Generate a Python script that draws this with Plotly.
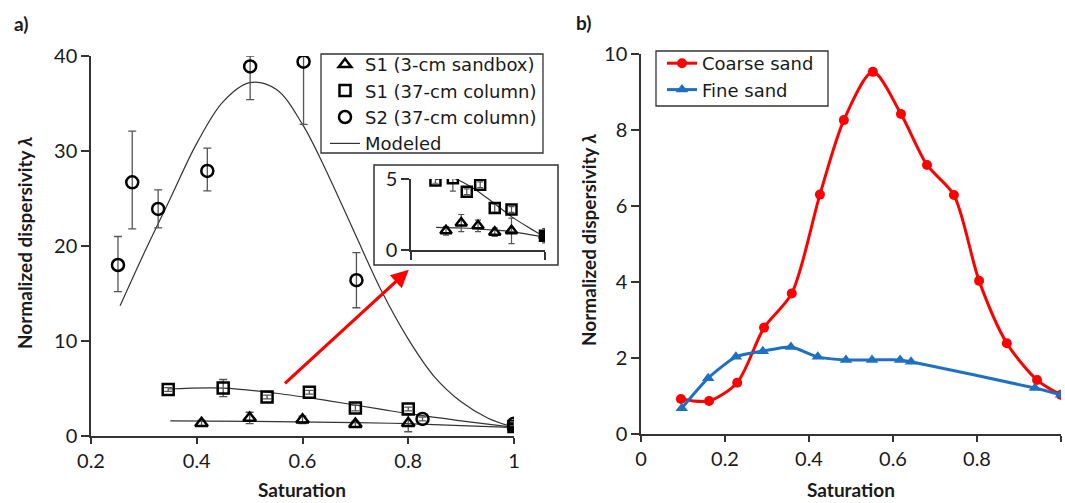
import plotly.graph_objects as go

# ---------------- Panel a) data ----------------
s1_box_x = [0.409, 0.50, 0.60, 0.70, 0.80, 1.0]
s1_box_y = [1.35, 1.9, 1.7, 1.25, 1.35, 1.0]
s1_box_err = [0.3, 0.6, 0.4, 0.3, 0.9, 0.3]

s1_col_x = [0.346, 0.45, 0.533, 0.613, 0.70, 0.80, 1.0]
s1_col_y = [4.9, 5.05, 4.1, 4.6, 2.95, 2.85, 1.0]
s1_col_err = [0.2, 0.9, 0.2, 0.2, 0.3, 0.2, 0.5]

s2_col_x = [0.251, 0.278, 0.327, 0.42, 0.501, 0.602, 0.702, 0.827, 1.0]
s2_col_y = [18.0, 26.7, 23.9, 27.9, 38.9, 39.4, 16.4, 1.8, 1.3]
s2_err_plus = [3.0, 5.4, 2.0, 2.4, 1.1, 0.6, 2.9, 0.2, 0.2]
s2_err_minus = [2.8, 4.9, 2.0, 2.1, 3.5, 6.6, 2.9, 0.2, 0.2]

mod_s2_x = [0.255, 0.30, 0.35, 0.40, 0.45, 0.50, 0.55, 0.60, 0.65, 0.70, 0.75, 0.80, 0.85, 0.90, 0.95, 1.0]
mod_s2_y = [13.7, 19.2, 25.0, 30.8, 35.2, 37.2, 36.5, 32.8, 27.3, 21.2, 15.2, 10.2, 6.2, 3.6, 1.9, 0.9]

mod_s1c_x = [0.346, 0.45, 0.55, 0.65, 0.75, 0.80, 0.90, 1.0]
mod_s1c_y = [4.95, 5.05, 4.5, 3.7, 2.8, 2.35, 1.6, 0.9]

mod_s1b_x = [0.35, 0.50, 0.70, 0.80, 0.90, 1.0]
mod_s1b_y = [1.6, 1.55, 1.4, 1.3, 1.1, 0.9]

# ---------------- Panel b) data ----------------
coarse_x = [0.095, 0.162, 0.229, 0.293, 0.359, 0.426, 0.483, 0.552, 0.619, 0.681, 0.745, 0.805, 0.871, 0.943, 1.0]
coarse_y = [0.92, 0.87, 1.35, 2.8, 3.7, 6.3, 8.26, 9.53, 8.42, 7.08, 6.29, 4.03, 2.39, 1.42, 1.03]

fine_x = [0.097, 0.16, 0.226, 0.29, 0.357, 0.421, 0.488, 0.55, 0.617, 0.643, 0.938, 1.0]
fine_y = [0.68, 1.47, 2.03, 2.18, 2.29, 2.03, 1.95, 1.95, 1.95, 1.9, 1.21, 1.03]

FONT = "Lato"
LFONT = "DejaVu Sans"
TXT = "#1a1a1a"
AX = "#333333"
W, H = 1065, 503

def px(xp):
    return xp / W

def py(yp):
    return 1 - yp / H

fig = go.Figure()

eb = dict(color="#555555", thickness=1.3, width=4)

# modeled lines (main)
for mx, my in [(mod_s2_x, mod_s2_y), (mod_s1c_x, mod_s1c_y), (mod_s1b_x, mod_s1b_y)]:
    fig.add_trace(go.Scatter(x=mx, y=my, mode="lines", line=dict(color=AX, width=1.2, shape="spline"),
                             name="Modeled", showlegend=False, xaxis="x", yaxis="y"))

sym_col = ["square-open"] * (len(s1_col_x) - 1) + ["square"]

fig.add_trace(go.Scatter(x=s1_box_x, y=s1_box_y, mode="markers", name="S1 (3-cm sandbox)",
                         marker=dict(symbol="triangle-up-open", size=11, color="black", line=dict(width=2.5)),
                         error_y=dict(type="data", array=s1_box_err, **eb), legendrank=1))
fig.add_trace(go.Scatter(x=s1_col_x, y=s1_col_y, mode="markers", name="S1 (37-cm column)",
                         marker=dict(symbol=sym_col, size=11, color="black", line=dict(width=2.5, color="black")),
                         error_y=dict(type="data", array=s1_col_err, **eb), legendrank=2))
fig.add_trace(go.Scatter(x=s2_col_x, y=s2_col_y, mode="markers", name="S2 (37-cm column)",
                         marker=dict(symbol="circle-open", size=12, color="black", line=dict(width=2.5)),
                         error_y=dict(type="data", symmetric=False, array=s2_err_plus, arrayminus=s2_err_minus, **eb),
                         legendrank=3))
# legend entry for modeled
fig.add_trace(go.Scatter(x=[None], y=[None], mode="lines", line=dict(color=AX, width=1.2), name="Modeled",
                         legendrank=4))

# inset traces
for mx, my in [(mod_s1c_x, mod_s1c_y), (mod_s1b_x, mod_s1b_y)]:
    fig.add_trace(go.Scatter(x=mx, y=my, mode="lines", line=dict(color=AX, width=1.2, shape="spline"),
                             showlegend=False, xaxis="x3", yaxis="y3"))
ebi = dict(color="#555555", thickness=1.2, width=3)
fig.add_trace(go.Scatter(x=s1_box_x, y=s1_box_y, mode="markers", showlegend=False, xaxis="x3", yaxis="y3",
                         marker=dict(symbol="triangle-up-open", size=10, color="black", line=dict(width=2.5)),
                         error_y=dict(type="data", array=s1_box_err, **ebi)))
fig.add_trace(go.Scatter(x=s1_col_x, y=s1_col_y, mode="markers", showlegend=False, xaxis="x3", yaxis="y3",
                         marker=dict(symbol=sym_col, size=10, color="black", line=dict(width=2.5, color="black")),
                         error_y=dict(type="data", array=s1_col_err, **ebi)))

# panel b traces
fig.add_trace(go.Scatter(x=coarse_x, y=coarse_y, mode="lines+markers", name="Coarse sand",
                         line=dict(color="#FF0000", width=3, shape="spline", smoothing=0.8),
                         marker=dict(symbol="circle", size=10, color="#FF0000"),
                         xaxis="x2", yaxis="y2", legend="legend2"))
fig.add_trace(go.Scatter(x=fine_x, y=fine_y, mode="lines+markers", name="Fine sand",
                         line=dict(color="#1F70C1", width=3, shape="spline", smoothing=0.6),
                         marker=dict(symbol="triangle-up", size=11, color="#1F70C1"),
                         xaxis="x2", yaxis="y2", legend="legend2"))

axis_common = dict(showgrid=False, zeroline=False, showline=True, linecolor=AX, linewidth=1.5,
                   ticks="outside", tickcolor=AX, tickwidth=1.5, automargin=False,
                   tickfont=dict(family=FONT, size=20, color=TXT))

fig.update_layout(
    width=W, height=H,
    margin=dict(l=0, r=0, t=0, b=0, pad=0, autoexpand=False),
    paper_bgcolor="white", plot_bgcolor="white",
    font=dict(family=FONT, color=TXT),
    xaxis=dict(domain=[px(91), px(514)], range=[0.2, 1.0], tickvals=[0.2, 0.4, 0.6, 0.8, 1.0],
               ticktext=["0.2", "0.4", "0.6", "0.8", "1"], ticklen=6, anchor="y", **axis_common),
    yaxis=dict(domain=[py(436), py(56)], range=[0, 40], tickvals=[0, 10, 20, 30, 40], ticklen=8,
               anchor="x", **axis_common),
    xaxis2=dict(domain=[px(641), px(1061)], range=[0, 1.0], tickvals=[0, 0.2, 0.4, 0.6, 0.8, 1.0],
                ticktext=["0", "0.2", "0.4", "0.6", "0.8", "1"], ticklen=6, anchor="y2", **axis_common),
    yaxis2=dict(domain=[py(434), py(54)], range=[0, 10], tickvals=[0, 2, 4, 6, 8, 10], ticklen=8,
                anchor="x2", **axis_common),
    xaxis3=dict(domain=[px(411), px(545)], range=[0.2, 1.0], tickvals=[0.2, 1.0], ticktext=["", ""],
                ticklen=8, anchor="y3", showgrid=False, zeroline=False, showline=True, linecolor=AX,
                linewidth=1.5, ticks="outside", tickcolor=AX, tickwidth=1.5, automargin=False),
    yaxis3=dict(domain=[py(250), py(179)], range=[0, 5], tickvals=[0, 5], ticklen=8, anchor="x3",
                showgrid=False, zeroline=False, showline=True, linecolor=AX, linewidth=1.5,
                ticks="outside", tickcolor=AX, tickwidth=1.5, automargin=False,
                tickfont=dict(family=FONT, size=20, color=TXT)),
    legend=dict(x=px(325), y=py(46), xanchor="left", yanchor="top", bgcolor="rgba(0,0,0,0)",
                borderwidth=0, font=dict(family=LFONT, size=18, color=TXT),
                tracegroupgap=0, itemwidth=30),
    legend2=dict(x=px(662), y=py(45), xanchor="left", yanchor="top", bgcolor="rgba(0,0,0,0)",
                 borderwidth=0, font=dict(family=LFONT, size=18, color=TXT),
                 itemwidth=30),
    showlegend=True,
)

# legend frames
fig.add_shape(type="rect", xref="paper", yref="paper", x0=px(321), x1=px(543), y0=py(153), y1=py(54),
              line=dict(color=AX, width=1.3), fillcolor="white", layer="above")
fig.add_shape(type="rect", xref="paper", yref="paper", x0=px(656), x1=px(828), y0=py(106), y1=py(51),
              line=dict(color=AX, width=1.3), fillcolor="white", layer="above")
# inset frame
fig.add_shape(type="rect", xref="paper", yref="paper", x0=px(374), x1=px(558), y0=py(265), y1=py(165),
              line=dict(color=AX, width=1.5), fillcolor="rgba(0,0,0,0)", layer="above")

# red arrow
fig.add_annotation(x=0.801, y=17.5, ax=0.564, ay=5.4, xref="x", yref="y", axref="x", ayref="y",
                   showarrow=True, arrowhead=2, arrowsize=1.1, arrowwidth=3.2, arrowcolor="#FF0000", text="")

# titles and panel labels
def label(xp, yp, text, size=19, angle=0):
    fig.add_annotation(x=px(xp), y=py(yp), xref="paper", yref="paper", text=text, showarrow=False,
                       xanchor="center", yanchor="middle", textangle=angle,
                       font=dict(family=FONT, size=size, color=TXT))

label(302, 489, "<b>Saturation</b>")
label(851, 489, "<b>Saturation</b>")
label(24, 243, "<b>Normalized dispersivity <i>λ</i></b>", size=19, angle=-90)
label(588, 240, "<b>Normalized dispersivity <i>λ</i></b>", size=19, angle=-90)
label(21, 24, "<b>a)</b>")
label(583, 22, "<b>b)</b>")

fig.write_html("out.html")
